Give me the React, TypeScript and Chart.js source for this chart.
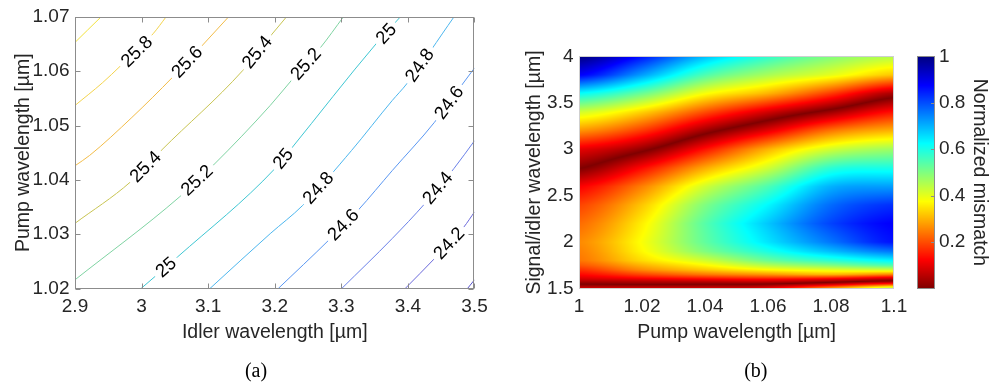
import React, { useEffect, useRef } from 'react';
import { Chart, registerables } from 'chart.js';

Chart.register(...registerables);

const FONT = '"Liberation Sans", Arial, Helvetica, sans-serif';
const SERIF = '"Liberation Serif", "Times New Roman", serif';
const TEXT = '#262626';
const AXIS = '#8c8c8c';

// ---------------- panel (a): contour lines ----------------
const idlerTicks = [2.9, 3.0, 3.1, 3.2, 3.3, 3.4, 3.5];
const pumpTicksA = [1.02, 1.03, 1.04, 1.05, 1.06, 1.07];

const contourLevels = ['26', '25.8', '25.6', '25.4', '25.2', '25', '24.8', '24.6', '24.4', '24.2', '24'];
const contourColors = ['#f2e23c', '#f3d34c', '#f2bc48', '#c8c452', '#7fd3a2', '#3ec6d2', '#4cb6ee', '#5a97f2', '#6a80e8', '#6a68da', '#5a55cc'];

const line260 = [[2.9, 1.0653], [2.9191, 1.0676], [2.9391, 1.07]];
const line258 = [[2.9, 1.0537], [2.9415, 1.0579], [2.9685, 1.061], [3.0173, 1.0669], [3.0368, 1.07]];
const line256 = [[2.9, 1.0426], [2.922, 1.0445], [2.9855, 1.0515], [3.0466, 1.0589], [3.0931, 1.065], [3.1306, 1.07]];
const line254 = [[2.9, 1.032], [2.9831, 1.0396], [3.0294, 1.0454], [3.1517, 1.0601], [3.1957, 1.0668], [3.2176, 1.07]];
const line252 = [[2.9, 1.0216], [3.0564, 1.0368], [3.1077, 1.0427], [3.1932, 1.0537], [3.225, 1.0583], [3.269, 1.0644], [3.3031, 1.07]];
const line250 = [[2.9992, 1.02], [3.0539, 1.0258], [3.2005, 1.0421], [3.2225, 1.0454], [3.3519, 1.065], [3.3886, 1.07]];
const line248 = [[3.1027, 1.02], [3.1932, 1.0301], [3.242, 1.0353], [3.3153, 1.0454], [3.3764, 1.0546], [3.3984, 1.0577], [3.4692, 1.07]];
const line246 = [[3.2053, 1.02], [3.2811, 1.0289], [3.3251, 1.0344], [3.3764, 1.0417], [3.4399, 1.0506], [3.48, 1.0573], [3.5, 1.0606]];
const line244 = [[3.3006, 1.02], [3.3764, 1.0292], [3.4252, 1.0356], [3.4692, 1.0421], [3.5, 1.0472]];
const line242 = [[3.3959, 1.02], [3.4399, 1.0255], [3.4839, 1.0313], [3.5, 1.0341]];
const line240 = [[3.4895, 1.02], [3.5, 1.0216]];
const contourLines = [line260, line258, line256, line254, line252, line250, line248, line246, line244, line242, line240];

const labelText = ['25.8', '25.6', '25.4', '25.4', '25.2', '25.2', '25', '25', '25', '24.8', '24.8', '24.6', '24.6', '24.4', '24.2'];
const labelLine = [1, 2, 3, 3, 4, 4, 5, 5, 5, 6, 6, 7, 7, 8, 9];
const labelX = [2.9928, 3.0686, 3.1737, 3.006, 3.247, 3.0832, 3.3676, 3.2127, 3.0368, 3.4179, 3.2655, 3.4619, 3.3031, 3.4449, 3.4619];
const labelY = [1.0636, 1.0617, 1.0635, 1.0424, 1.0613, 1.0399, 1.0669, 1.0439, 1.0239, 1.0611, 1.0385, 1.0542, 1.0317, 1.0385, 1.0283];

// ---------------- panel (b): normalized mismatch map ----------------
const pumpTicksB = [1, 1.02, 1.04, 1.06, 1.08, 1.1];
const signalTicks = [1.5, 2, 2.5, 3, 3.5, 4];
const colorbarTicks = [0.2, 0.4, 0.6, 0.8, 1];

const gridPump = [1.0, 1.02, 1.04, 1.06, 1.08, 1.1];
const gridSignal = [1.5, 1.52, 1.54, 1.56, 1.58, 1.6, 1.62, 1.65, 1.7, 1.75, 1.8, 1.9, 2.0, 2.2, 2.4, 2.6, 2.8, 3.0, 3.2, 3.4, 3.6, 3.8, 4.0];
// signed mismatch (sign flips across each phase-matching ridge); rows follow gridSignal
const mismatch = [
  [0.09, 0.1, 0.1, 0.12, 0.3, 0.47],
  [0.05, 0.05, 0.05, 0.07, 0.2, 0.36],
  [0.01, 0.005, 0.01, 0.02, 0.1, 0.22],
  [-0.02, -0.03, -0.03, -0.03, 0.02, 0.1],
  [-0.05, -0.06, -0.07, -0.08, -0.04, 0.01],
  [-0.08, -0.1, -0.12, -0.13, -0.1, -0.05],
  [-0.1, -0.14, -0.17, -0.19, -0.18, -0.12],
  [-0.13, -0.19, -0.24, -0.27, -0.3, -0.25],
  [-0.17, -0.26, -0.32, -0.37, -0.4, -0.42],
  [-0.21, -0.3, -0.37, -0.45, -0.5, -0.55],
  [-0.24, -0.34, -0.42, -0.52, -0.58, -0.63],
  [-0.25, -0.37, -0.5, -0.6, -0.69, -0.76],
  [-0.26, -0.38, -0.53, -0.65, -0.76, -0.86],
  [-0.23, -0.36, -0.54, -0.68, -0.81, -0.88],
  [-0.19, -0.32, -0.5, -0.63, -0.77, -0.83],
  [-0.12, -0.25, -0.42, -0.55, -0.7, -0.72],
  [0.005, -0.13, -0.29, -0.42, -0.58, -0.6],
  [0.1, 0.02, -0.14, -0.3, -0.42, -0.47],
  [0.27, 0.18, 0.03, -0.1, -0.24, -0.3],
  [0.42, 0.33, 0.2, 0.08, -0.03, -0.14],
  [0.62, 0.52, 0.38, 0.3, 0.18, 0.04],
  [0.88, 0.72, 0.55, 0.46, 0.4, 0.32],
  [1.0, 0.86, 0.69, 0.58, 0.5, 0.45],
];

// ---------------- helpers ----------------
const fmt = (v: number) => String(Number(Number(v).toFixed(3)));
const clamp = (v: number, a: number, b: number) => Math.max(a, Math.min(b, v));

function jet(t: number): [number, number, number] {
  const c = (v: number) => clamp(v, 0, 1);
  return [
    c(Math.min(4 * t - 1.5, -4 * t + 4.5)),
    c(Math.min(4 * t - 0.5, -4 * t + 3.5)),
    c(Math.min(4 * t + 0.5, -4 * t + 2.5)),
  ];
}
const mapColor = (v: number) => jet(1 - clamp(v, 0, 1));

function rowValues(yv: number): number[] {
  let k = 0;
  while (k < gridSignal.length - 2 && yv > gridSignal[k + 1]) k++;
  const t = clamp((yv - gridSignal[k]) / (gridSignal[k + 1] - gridSignal[k]), 0, 1);
  return mismatch[k].map((v, i) => v + (mismatch[k + 1][i] - v) * t);
}
function colValue(col: number[], xv: number): number {
  const n = col.length;
  const step = gridPump[1] - gridPump[0];
  const u = clamp((xv - gridPump[0]) / step, 0, n - 1);
  let i = Math.floor(u);
  if (i > n - 2) i = n - 2;
  const t = u - i;
  const p0 = col[Math.max(i - 1, 0)], p1 = col[i], p2 = col[i + 1], p3 = col[Math.min(i + 2, n - 1)];
  const t2 = t * t, t3 = t2 * t;
  return 0.5 * (2 * p1 + (-p0 + p2) * t + (2 * p0 - 5 * p1 + 4 * p2 - p3) * t2 + (-p0 + 3 * p1 - 3 * p2 + p3) * t3);
}

const tickFont = { family: FONT, size: 19 };
const titleFont = { family: FONT, size: 19.5 };

// ---------------- plugins ----------------
const contourLabelPlugin = {
  id: 'contourLabels',
  afterDatasetsDraw(chart: any) {
    const { ctx, chartArea: a, scales } = chart;
    const xs = scales.x, ys = scales.y;
    ctx.save();
    ctx.beginPath();
    ctx.rect(a.left, a.top, a.right - a.left, a.bottom - a.top);
    ctx.clip();
    ctx.font = `18.5px ${FONT}`;
    ctx.textAlign = 'center';
    ctx.textBaseline = 'middle';
    labelText.forEach((txt, i) => {
      const pts = contourLines[labelLine[i]];
      const lx = labelX[i], ly = labelY[i];
      let k = 0;
      while (k < pts.length - 2 && lx > pts[k + 1][0]) k++;
      const x0 = xs.getPixelForValue(pts[k][0]), y0 = ys.getPixelForValue(pts[k][1]);
      const x1 = xs.getPixelForValue(pts[k + 1][0]), y1 = ys.getPixelForValue(pts[k + 1][1]);
      const ang = Math.atan2(y1 - y0, x1 - x0);
      const cx = xs.getPixelForValue(lx), cy = ys.getPixelForValue(ly);
      const w = ctx.measureText(txt).width;
      ctx.save();
      ctx.translate(cx, cy);
      ctx.rotate(ang);
      ctx.fillStyle = '#ffffff';
      ctx.fillRect(-w / 2 - 4, -9, w + 8, 18);
      ctx.fillStyle = '#000000';
      ctx.fillText(txt, 0, 0.5);
      ctx.restore();
    });
    ctx.restore();
  },
};

const frameAPlugin = {
  id: 'frameA',
  afterDraw(chart: any) {
    const { ctx, chartArea: a, scales } = chart;
    const L = Math.round(a.left) + 0.5, R = Math.round(a.right) - 0.5, T = Math.round(a.top) + 0.5, B = Math.round(a.bottom) - 0.5;
    ctx.save();
    ctx.strokeStyle = AXIS;
    ctx.lineWidth = 1;
    ctx.strokeRect(L, T, R - L, B - T);
    ctx.beginPath();
    idlerTicks.forEach((v) => {
      const p = Math.round(scales.x.getPixelForValue(v)) + 0.5;
      ctx.moveTo(p, B); ctx.lineTo(p, B - 5);
      ctx.moveTo(p, T); ctx.lineTo(p, T + 5);
    });
    pumpTicksA.forEach((v) => {
      const p = Math.round(scales.y.getPixelForValue(v)) + 0.5;
      ctx.moveTo(L, p); ctx.lineTo(L + 5, p);
      ctx.moveTo(R, p); ctx.lineTo(R - 5, p);
    });
    ctx.stroke();
    ctx.fillStyle = '#000';
    ctx.font = `20px ${SERIF}`;
    ctx.textAlign = 'center';
    ctx.textBaseline = 'middle';
    ctx.fillText('(a)', 256, 372);
    ctx.restore();
  },
};

const heatmapPlugin = {
  id: 'heatmap',
  beforeDatasetsDraw(chart: any) {
    const { ctx, scales } = chart;
    const xs = scales.x, ys = scales.y;
    const left = Math.round(xs.getPixelForValue(gridPump[0]));
    const right = Math.round(xs.getPixelForValue(gridPump[gridPump.length - 1]));
    const top = Math.round(ys.getPixelForValue(gridSignal[gridSignal.length - 1]));
    const bottom = Math.round(ys.getPixelForValue(gridSignal[0]));
    const w = right - left, h = bottom - top;
    const off = document.createElement('canvas');
    off.width = w; off.height = h;
    const octx = off.getContext('2d')!;
    const img = octx.createImageData(w, h);
    const xv: number[] = [];
    for (let i = 0; i < w; i++) xv.push(xs.getValueForPixel(left + i + 0.5));
    for (let j = 0; j < h; j++) {
      const col = rowValues(ys.getValueForPixel(top + j + 0.5));
      for (let i = 0; i < w; i++) {
        const v = Math.abs(colValue(col, xv[i]));
        const [r, g, b] = mapColor(v);
        const o = (j * w + i) * 4;
        img.data[o] = Math.round(r * 255);
        img.data[o + 1] = Math.round(g * 255);
        img.data[o + 2] = Math.round(b * 255);
        img.data[o + 3] = 255;
      }
    }
    octx.putImageData(img, 0, 0);
    ctx.save();
    ctx.drawImage(off, left, top);
    ctx.strokeStyle = '#cfcfcf';
    ctx.lineWidth = 1;
    ctx.strokeRect(left + 0.5, top + 0.5, w - 1, h - 1);
    ctx.restore();
  },
  afterDraw(chart: any) {
    const { ctx, chartArea: a, scales } = chart;
    const cb = scales.cb;
    const top = Math.round(cb.getPixelForValue(1));
    const bottom = Math.round(cb.getPixelForValue(0));
    const x0 = Math.round(a.right) + 23, x1 = Math.round(a.right) + 41;
    ctx.save();
    for (let py = top; py < bottom; py++) {
      const v = cb.getValueForPixel(py + 0.5);
      const [r, g, b] = mapColor(v);
      ctx.fillStyle = `rgb(${Math.round(r * 255)},${Math.round(g * 255)},${Math.round(b * 255)})`;
      ctx.fillRect(x0, py, x1 - x0, 1);
    }
    ctx.strokeStyle = AXIS;
    ctx.lineWidth = 1;
    ctx.strokeRect(x0 + 0.5, top + 0.5, x1 - x0 - 1, bottom - top - 1);
    ctx.beginPath();
    colorbarTicks.forEach((v) => {
      const p = Math.round(cb.getPixelForValue(v)) + 0.5;
      ctx.moveTo(x1 - 0.5, p); ctx.lineTo(x1 - 4, p);
    });
    ctx.stroke();
    ctx.fillStyle = '#000';
    ctx.font = `20px ${SERIF}`;
    ctx.textAlign = 'center';
    ctx.textBaseline = 'middle';
    ctx.fillText('(b)', 260.8, 372);
    ctx.restore();
  },
};

function makeTicks(values: number[]) {
  return (s: any) => { s.ticks = values.map((v) => ({ value: v })); };
}

export default function App() {
  const aRef = useRef<HTMLCanvasElement>(null);
  const bRef = useRef<HTMLCanvasElement>(null);

  useEffect(() => {
    const chartA = new Chart(aRef.current!, {
      type: 'scatter',
      data: {
        datasets: contourLines.map((pts, i) => ({
          label: contourLevels[i],
          data: pts.map(([x, y]) => ({ x, y })),
          showLine: true,
          borderColor: contourColors[i],
          borderWidth: 1,
          pointRadius: 0,
          fill: false,
          cubicInterpolationMode: 'monotone' as const,
        })),
      },
      options: {
        responsive: false,
        animation: false,
        layout: { padding: { left: 0, right: 11, top: 16, bottom: 0 } },
        plugins: { legend: { display: false }, tooltip: { enabled: false } },
        scales: {
          x: {
            type: 'linear', min: 2.9, max: 3.5,
            afterBuildTicks: makeTicks(idlerTicks),
            afterFit: (s: any) => { s.height = 96.5; },
            grid: { display: false, drawTicks: false },
            border: { display: false },
            ticks: { callback: (v: any) => fmt(v), font: tickFont, color: TEXT, padding: 7.3, maxRotation: 0, autoSkip: false },
            title: { display: true, text: 'Idler wavelength [µm]', font: titleFont, color: TEXT, padding: { top: 0, bottom: 40.8 } },
          },
          y: {
            type: 'linear', min: 1.02, max: 1.07,
            afterBuildTicks: makeTicks(pumpTicksA),
            afterFit: (s: any) => { s.width = 75; },
            grid: { display: false, drawTicks: false },
            border: { display: false },
            ticks: { callback: (v: any) => fmt(v), font: tickFont, color: TEXT, padding: 5.5, autoSkip: false },
            title: { display: true, text: 'Pump wavelength [µm]', font: titleFont, color: TEXT, padding: { top: 12.2, bottom: 0 } },
          },
        },
      },
      plugins: [contourLabelPlugin, frameAPlugin],
    } as any);

    const chartB = new Chart(bRef.current!, {
      type: 'scatter',
      data: { datasets: [] },
      options: {
        responsive: false,
        animation: false,
        layout: { padding: { left: 0, right: 0, top: 13.3, bottom: 0 } },
        plugins: { legend: { display: false }, tooltip: { enabled: false } },
        scales: {
          x: {
            type: 'linear', min: 1, max: 1.1,
            afterBuildTicks: makeTicks(pumpTicksB),
            afterFit: (s: any) => { s.height = 96.5; },
            grid: { display: false, drawTicks: false },
            border: { display: false },
            ticks: { callback: (v: any) => fmt(v), font: tickFont, color: TEXT, padding: 7.3, maxRotation: 0, autoSkip: false },
            title: { display: true, text: 'Pump wavelength [µm]', font: titleFont, color: TEXT, padding: { top: 0, bottom: 40.8 } },
          },
          y: {
            type: 'linear', min: 1.5, max: 4,
            afterBuildTicks: makeTicks(signalTicks),
            afterFit: (s: any) => { s.width = 84; },
            grid: { display: false, drawTicks: false },
            border: { display: false },
            ticks: { callback: (v: any) => fmt(v), font: tickFont, color: TEXT, padding: 5.5, autoSkip: false },
            title: { display: true, text: 'Signal/idler wavelength [µm]', font: titleFont, color: TEXT, padding: { top: 27.7, bottom: 0 } },
          },
          cb: {
            type: 'linear', position: 'right', min: 0, max: 1,
            afterBuildTicks: makeTicks(colorbarTicks),
            afterFit: (s: any) => { s.width = 95; },
            grid: { display: false, drawTicks: false },
            border: { display: false },
            ticks: { callback: (v: any) => fmt(v), font: tickFont, color: TEXT, padding: 45, autoSkip: false },
            title: { display: true, text: 'Normalized mismatch', font: { ...titleFont, lineHeight: 1 }, color: TEXT, padding: { top: 0, bottom: 0 } },
          },
        },
      },
      plugins: [heatmapPlugin],
    } as any);

    return () => { chartA.destroy(); chartB.destroy(); };
  }, []);

  return (
    <div style={{ position: 'fixed', left: 0, top: 0, width: 989, height: 385, background: '#ffffff', overflow: 'hidden' }}>
      <canvas ref={aRef} width={495} height={385} style={{ position: 'absolute', left: 0, top: 0 }} />
      <canvas ref={bRef} width={494} height={385} style={{ position: 'absolute', left: 495, top: 0 }} />
    </div>
  );
}
